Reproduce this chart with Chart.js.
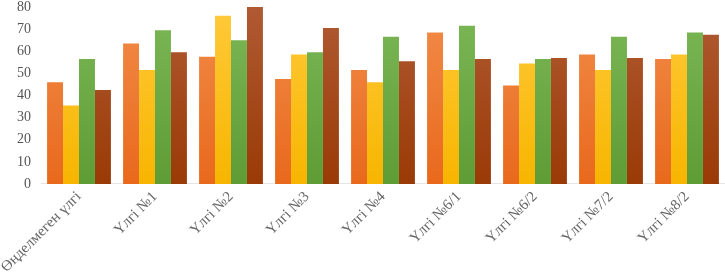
<!DOCTYPE html>
<html>
<head>
<meta charset="utf-8">
<script src="https://cdn.jsdelivr.net/npm/chart.js@4/dist/chart.umd.min.js"></script>
<style>
html,body{margin:0;padding:0;background:#fff;}
#wrap{width:725px;height:280px;}
</style>
</head>
<body>
<div id="wrap"><canvas id="c" width="725" height="280"></canvas></div>
<script>
const categories = ["Өңделмеген үлгі","Үлгі №1","Үлгі №2","Үлгі №3","Үлгі №4","Үлгі №6/1","Үлгі №6/2","Үлгі №7/2","Үлгі №8/2"];
const series1 = [46, 63.5, 57.5, 47.5, 51.5, 68.5, 44.5, 58.5, 56.5];
const series2 = [35.5, 51.5, 76, 58.5, 46, 51.5, 54.5, 51.5, 58.5];
const series3 = [56.5, 69.5, 65, 59.5, 66.5, 71.5, 56.5, 66.5, 68.5];
const series4 = [42.5, 59.5, 80, 70.5, 55.5, 56.5, 57, 57, 67.5];
const yTicks = [0,10,20,30,40,50,60,70,80];

const colorStops = [
  ["#f28c4a","#e8691c"],
  ["#ffca3a","#f7b500"],
  ["#7cb756","#5e9c35"],
  ["#b05a33","#9a3a06"]
];
function grad(i){
  return function(ctx){
    const ch = ctx.chart; const a = ch.chartArea;
    if(!a) return colorStops[i][1];
    const g = ch.ctx.createLinearGradient(0,a.top,0,a.bottom);
    g.addColorStop(0,colorStops[i][0]);
    g.addColorStop(1,colorStops[i][1]);
    return g;
  };
}
const seriesList = [series1,series2,series3,series4];
new Chart(document.getElementById('c'),{
  type:'bar',
  data:{
    labels:categories,
    datasets:seriesList.map((s,i)=>({data:s,backgroundColor:grad(i),borderWidth:0,categoryPercentage:0.84,barPercentage:1.0}))
  },
  options:{
    responsive:false,
    animation:false,
    layout:{padding:{top:0,right:0,left:0,bottom:0}},
    plugins:{legend:{display:false},tooltip:{enabled:false}},
    scales:{
      x:{
        grid:{display:false,drawTicks:false},
        border:{display:true,color:'#e6e6e6'},
        ticks:{minRotation:45,maxRotation:45,color:'#666',font:{family:'Liberation Serif',size:15},padding:4},
        afterFit:(ax)=>{ax.paddingLeft=0;ax.paddingRight=0;}
      },
      y:{
        min:0,max:80,
        afterBuildTicks:(ax)=>{ax.ticks=yTicks.map(v=>({value:v}));},
        grid:{display:false,drawTicks:false},
        border:{display:false},
        ticks:{color:'#555',font:{family:'Liberation Serif',size:14},padding:10},
        afterFit:(ax)=>{ax.width=41;ax.paddingTop=7;ax.paddingBottom=0;}
      }
    }
  }
});
</script>
</body>
</html>
